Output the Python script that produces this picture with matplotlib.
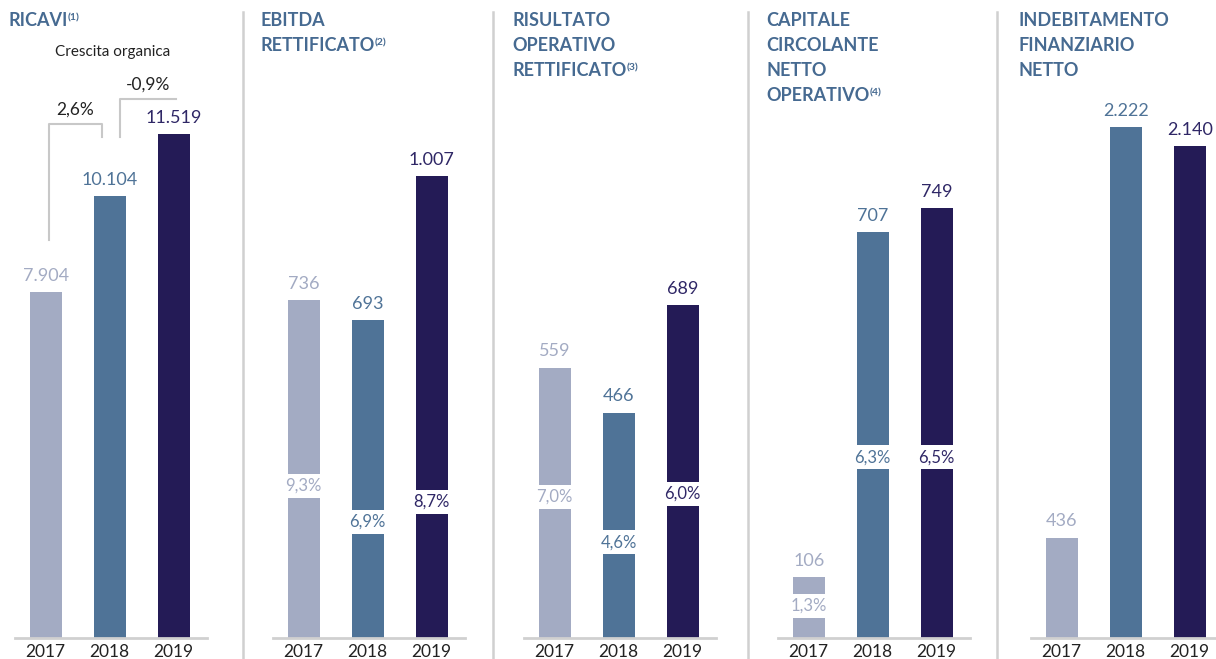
import matplotlib.pyplot as plt

plt.rcParams['font.family'] = ['Lato', 'DejaVu Sans']

# data
years = ["2017", "2018", "2019"]
ricavi = [7904, 10104, 11519]
ebitda = [736, 693, 1007]
risultato = [559, 466, 689]
capitale = [106, 707, 749]
indebitamento = [436, 2222, 2140]

ebitda_pct = ["9,3%", "6,9%", "8,7%"]
risultato_pct = ["7,0%", "4,6%", "6,0%"]
capitale_pct = ["1,3%", "6,3%", "6,5%"]

crescita = ["2,6%", "-0,9%"]

values = [ricavi, ebitda, risultato, capitale, indebitamento]
pcts = [None, ebitda_pct, risultato_pct, capitale_pct, None]
titles = [["RICAVI"], ["EBITDA", "RETTIFICATO"],
          ["RISULTATO", "OPERATIVO", "RETTIFICATO"],
          ["CAPITALE", "CIRCOLANTE", "NETTO", "OPERATIVO"],
          ["INDEBITAMENTO", "FINANZIARIO", "NETTO"]]
notes = ["(1)", "(2)", "(3)", "(4)", None]

# layout
W, H = 1216, 659
colors = ["#a3abc3", "#4f7397", "#241b56"]
label_colors = ["#a3abc3", "#4f7397", "#2f2766"]
title_color = "#466a91"
sep_color = "#d0d0d0"
ytops = [12296, 1173, 1113, 937, 2340]
bar0_left = [30, 288, 539, 793, 1046]
title_left = [8, 260, 512, 766, 1018]
pct_frac = [None, [0.283, 0.216, 0.253], [0.262, 0.178, 0.268], [0.06, 0.336, 0.336], None]
separators = [243, 493, 748, 997]

fig = plt.figure(figsize=(W / 100, H / 100), dpi=100)


# format numbers italian style
def fmt(v):
    return f"{v:,}".replace(",", ".")


axes = []
for i, vals in enumerate(values):
    left = (bar0_left[i] - 15) / W
    ax = fig.add_axes([left, (H - 638) / H, 192 / W, 538 / H])
    ax.bar(range(3), vals, width=0.5, color=colors)
    ax.set_xlim(-0.48, 2.52)
    ax.set_ylim(0, ytops[i])
    for s in ["top", "right", "left"]:
        ax.spines[s].set_visible(False)
    ax.spines["bottom"].set_color(sep_color)
    ax.spines["bottom"].set_linewidth(2)
    ax.set_yticks([])
    ax.set_xticks(range(3))
    ax.set_xticklabels(years, fontsize=12.5, color="#222222")
    ax.tick_params(axis="x", length=0, pad=4)
    for j, v in enumerate(vals):
        ax.annotate(fmt(v), (j, v), xytext=(0, 6), textcoords="offset points",
                    ha="center", va="bottom", fontsize=13,
                    color=label_colors[j])
    if pcts[i] is not None:
        for j, p in enumerate(pcts[i]):
            ax.text(j, pct_frac[i][j] * ytops[i], p, ha="center", va="center",
                    fontsize=12, color=label_colors[j],
                    bbox=dict(facecolor="white", edgecolor="none", pad=3))
    axes.append(ax)

    # title lines
    last = None
    for k, line in enumerate(titles[i]):
        last = fig.text(title_left[i] / W, 1 - (12 + 25 * k) / H, line,
                        ha="left", va="top", fontsize=13, fontweight="bold",
                        color=title_color)
    if notes[i]:
        fig.text(0, 0, "")
        plt.annotate(notes[i], xy=(1, 1), xycoords=last, xytext=(0, -1),
                     textcoords="offset points", ha="left", va="top",
                     fontsize=7.5, fontweight="bold", color=title_color)

# separators
for x in separators:
    fig.add_artist(plt.Line2D([x / W, x / W], [0, 1 - 12 / H], color=sep_color, lw=1.8))

# crescita organica brackets on first panel
ax = axes[0]
fig.text(113 / W, 1 - 52 / H, "Crescita organica", ha="center", va="center",
         fontsize=11, color="#222222")
br_color = "#c8c8c8"
b1 = [(0.05, ricavi[0] + 1200), (0.05, 11745), (0.88, 11745), (0.88, ricavi[1] + 1350)]
b2 = [(1.16, ricavi[1] + 1350), (1.16, 12316), (2.03, 12316), (2.03, ricavi[2] + 800)]
for pts, txt in zip([b1, b2], crescita):
    xs = [p[0] for p in pts]
    ys = [p[1] for p in pts]
    ax.plot(xs, ys, color=br_color, lw=1.5, clip_on=False)
    ax.annotate(txt, ((xs[0] + xs[-1]) / 2, ys[1]), xytext=(0, 5),
                textcoords="offset points", ha="center", va="bottom",
                fontsize=12.5, color="#222222", annotation_clip=False)

fig.savefig("out.png", dpi=100)
